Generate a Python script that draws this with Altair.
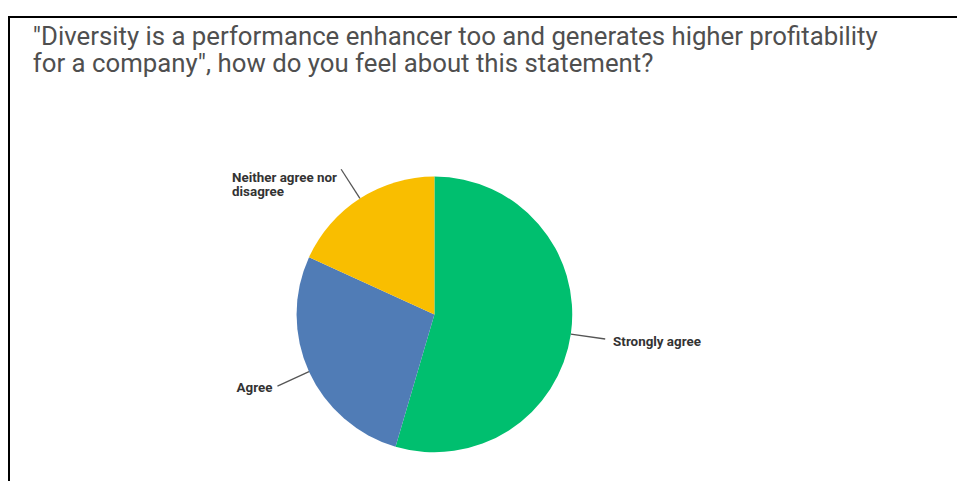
import altair as alt
import pandas as pd

categories = ["Strongly agree", "Agree", "Neither agree nor disagree"]
labels = ["Strongly agree", "Agree", "Neither agree nor\ndisagree"]
values = [54.55, 27.27, 18.18]
order = [1, 2, 3]
colors = ["#00BF6F", "#507CB6", "#F9BE00"]

title_lines = [
    "\"Diversity is a performance enhancer too and generates higher profitability",
    "for a company\", how do you feel about this statement?",
]

W, H = 957, 475
CX, CY, R, RL = 430, 307, 139, 174

df = pd.DataFrame({"category": categories, "label": labels, "value": values, "order": order})

arcs = alt.Chart(df).mark_arc(outerRadius=R).encode(
    theta=alt.Theta("value:Q", stack=True),
    order=alt.Order("order:Q"),
    color=alt.Color("category:N", scale=alt.Scale(domain=categories, range=colors), legend=None),
    x=alt.value(CX),
    y=alt.value(CY),
)

geo = alt.Chart(df).transform_joinaggregate(total="sum(value)").transform_window(
    cum="sum(value)", sort=[alt.SortField("order")], frame=[None, 0]
).transform_calculate(
    mid="((datum.cum - datum.value/2)/datum.total)*2*PI",
).transform_calculate(
    sx=f"{CX} + {R}*sin(datum.mid)",
    sy=f"{CY} - {R}*cos(datum.mid)",
    ex=f"{CX} + {RL}*sin(datum.mid)",
    ey=f"{CY} - {RL}*cos(datum.mid)",
    side="sin(datum.mid) > 0 ? 1 : -1",
    multi="indexof(datum.label, '\\n') >= 0 ? 1 : 0",
)

leaders = geo.mark_rule(color="#555555", strokeWidth=1.3).encode(
    x=alt.X("sx:Q", scale=None, axis=None),
    y=alt.Y("sy:Q", scale=None, axis=None),
    x2="ex:Q",
    y2="ey:Q",
)

lab_style = dict(font="Roboto", fontSize=13.5, fontWeight="bold", color="#333333", baseline="middle", lineBreak="\n", lineHeight=14)

right_labels = geo.transform_filter("datum.side > 0").mark_text(align="left", dx=8, dy=3, **lab_style).encode(
    x=alt.X("ex:Q", scale=None, axis=None), y=alt.Y("ey:Q", scale=None, axis=None), text="label:N"
)
left_single = geo.transform_filter("datum.side < 0 && datum.multi == 0").mark_text(align="right", dx=-5, dy=2, **lab_style).encode(
    x=alt.X("ex:Q", scale=None, axis=None), y=alt.Y("ey:Q", scale=None, axis=None), text="label:N"
)
left_multi = geo.transform_filter("datum.side < 0 && datum.multi == 1").mark_text(align="left", dx=-110, dy=9, **lab_style).encode(
    x=alt.X("ex:Q", scale=None, axis=None), y=alt.Y("ey:Q", scale=None, axis=None), text="label:N"
)

tdf = pd.DataFrame({"t": title_lines, "i": [0, 1]})
title_style = dict(font="Roboto", fontSize=26, color="#4f4f4f", align="left", baseline="alphabetic")
t1 = alt.Chart(tdf).transform_filter("datum.i == 0").mark_text(**title_style).encode(
    x=alt.value(25), y=alt.value(35), text="t:N")
t2 = alt.Chart(tdf).transform_filter("datum.i == 1").mark_text(**title_style).encode(
    x=alt.value(25), y=alt.value(63), text="t:N")

frame_left = alt.Chart(tdf).mark_rule(color="black", strokeWidth=2).encode(
    x=alt.value(1), y=alt.value(6), y2=alt.value(H))
frame_top = alt.Chart(tdf).mark_rule(color="black", strokeWidth=2).encode(
    x=alt.value(0), x2=alt.value(W), y=alt.value(7))

chart = alt.layer(arcs, leaders, right_labels, left_single, left_multi, t1, t2, frame_left, frame_top).properties(
    width=W, height=H, autosize=alt.AutoSizeParams(type="none"), padding=0
).configure_view(stroke=None)

chart.save("out.html", embed_options={"renderer": "svg", "actions": False})
